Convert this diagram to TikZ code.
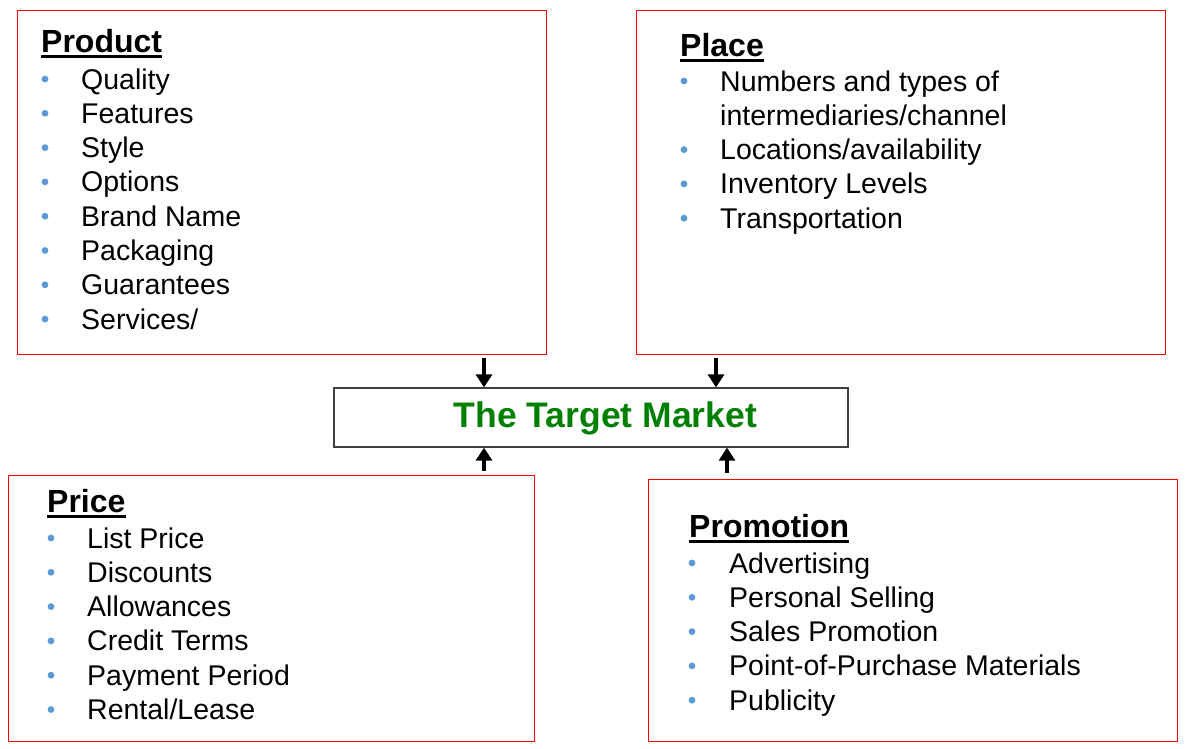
\documentclass[tikz,border=0pt]{standalone}
\usepackage{fontspec}
\setmainfont{Liberation Sans}
\usetikzlibrary{arrows.meta}
\definecolor{bul}{RGB}{91,155,213}
\definecolor{tgreen}{RGB}{0,128,0}
\begin{document}
\begin{tikzpicture}[x=1pt,y=-1pt,
  redbox/.style={draw=red,line width=1.3pt,anchor=north west,inner sep=0pt},
  item/.style={anchor=base west,inner sep=0pt,font=\fontsize{28.5}{32}\selectfont},
  ttl/.style={anchor=base west,inner sep=0pt,font=\fontsize{32}{34}\selectfont\bfseries},
  arr/.style={line width=4pt,-{Triangle[length=13pt,width=16pt]}}]
\useasboundingbox (0,0) rectangle (1188,748);
% boxes
\node[redbox,minimum width=529pt,minimum height=344pt] (prod) at (17,10) {};
\node[redbox,minimum width=529pt,minimum height=344pt] (place) at (636,10) {};
\node[redbox,minimum width=526pt,minimum height=266pt] (price) at (8,475) {};
\node[redbox,minimum width=529pt,minimum height=262pt] (promo) at (648,479) {};
\node[draw=black!75,line width=1.3pt,minimum width=514pt,minimum height=59pt,inner sep=0pt] (tm) at (591,417.5) {};
\node[inner sep=0pt,font=\fontsize{35.5}{38}\selectfont\bfseries,text=tgreen] (tmt) at (605.5,418) {The Target Market};
% arrows
\draw[arr] ([yshift=-3pt]prod.south -| 484,0) -- (tm.north -| 484,0);
\draw[arr] ([yshift=-3pt]place.south -| 716,0) -- (tm.north -| 716,0);
\draw[arr] ([yshift=4pt]price.north -| 484,0) -- (tm.south -| 484,0);
\draw[arr] ([yshift=6pt]promo.north -| 727,0) -- (tm.south -| 727,0);
% titles
\node[ttl] (t1) at (41,52) {Product};
\node[ttl] (t2) at (680,56) {Place};
\node[ttl] (t3) at (47,512) {Price};
\node[ttl] (t4) at (689,537) {Promotion};
\foreach \t in {t1,t2,t3,t4}
  \draw[line width=2.8pt] ([yshift=-4.5pt]\t.base west) -- ([yshift=-4.5pt]\t.base east);
% Product items
\foreach \txt [count=\i] in {Quality,Features,Style,Options,Brand Name,Packaging,Guarantees,{Services/}}{
  \fill[bul] (45,{89+(\i-1)*34.3-10}) circle (3.4pt);
  \node[item] (pr\i) at (81,{89+(\i-1)*34.3}) {\txt};
}
% Place items
\foreach \b/\txt [count=\i] in {1/{Numbers and types of},0/{intermediaries/channel},1/{Locations/availability},1/{Inventory Levels},1/{Transportation}}{
  \ifnum\b=1 \fill[bul] (684,{91+(\i-1)*34.3-10}) circle (3.4pt);\fi
  \node[item] (pl\i) at (720,{91+(\i-1)*34.3}) {\txt};
}
% Price items
\foreach \txt [count=\i] in {List Price,Discounts,Allowances,Credit Terms,Payment Period,{Rental/Lease}}{
  \fill[bul] (51,{548+(\i-1)*34.3-10}) circle (3.4pt);
  \node[item] (pc\i) at (87,{548+(\i-1)*34.3}) {\txt};
}
% Promotion items
\foreach \txt [count=\i] in {Advertising,Personal Selling,Sales Promotion,Point-of-Purchase Materials,Publicity}{
  \fill[bul] (692,{573+(\i-1)*34.3-10}) circle (3.4pt);
  \node[item] (pm\i) at (729,{573+(\i-1)*34.3}) {\txt};
}
\end{tikzpicture}
\end{document}
